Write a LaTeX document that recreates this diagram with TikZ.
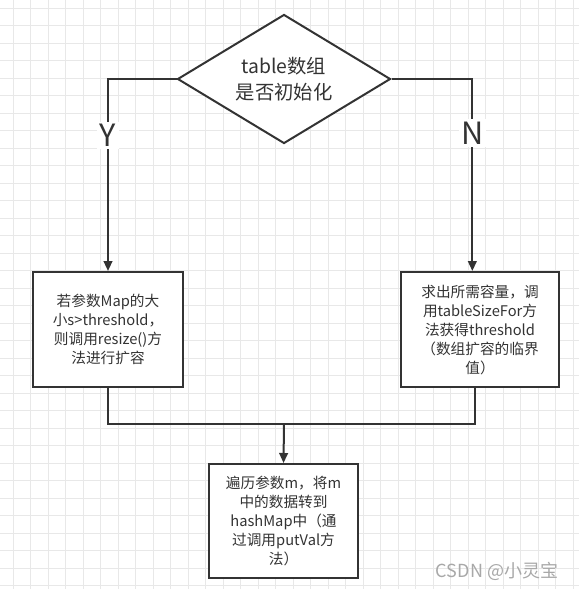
\documentclass[tikz,border=0pt]{standalone}
\usepackage{fontspec}
\setmainfont{Noto Sans CJK SC}
\usetikzlibrary{shapes.geometric, arrows.meta}
\definecolor{ink}{HTML}{333333}
\definecolor{gridline}{HTML}{E8E8E8}
\definecolor{markgray}{HTML}{A8A8A8}
\tikzstyle{decision} = [diamond, aspect=1.65, minimum width=159.75pt, minimum height=96.75pt, inner sep=0pt, text centered, align=center, draw=ink, line width=1.5pt, fill=white, text=ink, font=\fontsize{14.5}{19}\selectfont]
\tikzstyle{process} = [rectangle, minimum height=86.25pt, text centered, align=center, draw=ink, line width=1.5pt, fill=white, text=ink, font=\fontsize{11}{14.25}\selectfont]
\tikzstyle{branch} = [fill=white, text=ink, inner sep=2pt, font=\fontsize{23}{23}\selectfont]
\tikzstyle{line} = [ink, line width=1.5pt]
\tikzstyle{arrow} = [line, -{Triangle[length=7.5pt,width=6.5pt]}]

\begin{document}
\begin{tikzpicture}[x=0.75pt, y=-0.75pt]
\useasboundingbox (0,0) rectangle (579,589);
\fill[white] (0,0) rectangle (579,589);
\foreach \k in {0,...,32}
  \draw[gridline, line width=0.75pt] (13.3+17.5*\k,0) -- ++(0,589);
\foreach \k in {0,...,33}
  \draw[gridline, line width=0.75pt] (0,8.3+17.5*\k) -- ++(579,0);

\node (decide) [decision] at (284,79) {table数组\\是否初始化};
\node (resize) [process, minimum width=112.5pt] at (108,329.5) {若参数Map的大\\小s>threshold，\\则调用resize()方\\法进行扩容};
\node (calc) [process, minimum width=118.5pt] at (480,329.5) {求出所需容量，调\\用tableSizeFor方\\法获得threshold\\（数组扩容的临界\\值）};
\node (putval) [process, minimum width=111.75pt, minimum height=85.5pt] at (283.5,521) {遍历参数m，将m\\中的数据转到\\hashMap中（通\\过调用putVal方\\法）};
\coordinate (join) at (284,424);

\draw [arrow] (decide.west) -| (resize.north) node[branch, pos=0.647] {Y};
\draw [arrow] (decide.east) -| ([xshift=-5.75pt]calc.north) node[branch, pos=0.64] {N};
\draw [line] (resize.south) |- (join) -| ([xshift=-3.75pt]calc.south);
\draw [arrow] (join) -- (putval.north);

\node (mark) [text=markgray, font=\fontsize{13.5}{13.5}\selectfont] at (497,571) {CSDN @小灵宝};
\end{tikzpicture}
\end{document}
